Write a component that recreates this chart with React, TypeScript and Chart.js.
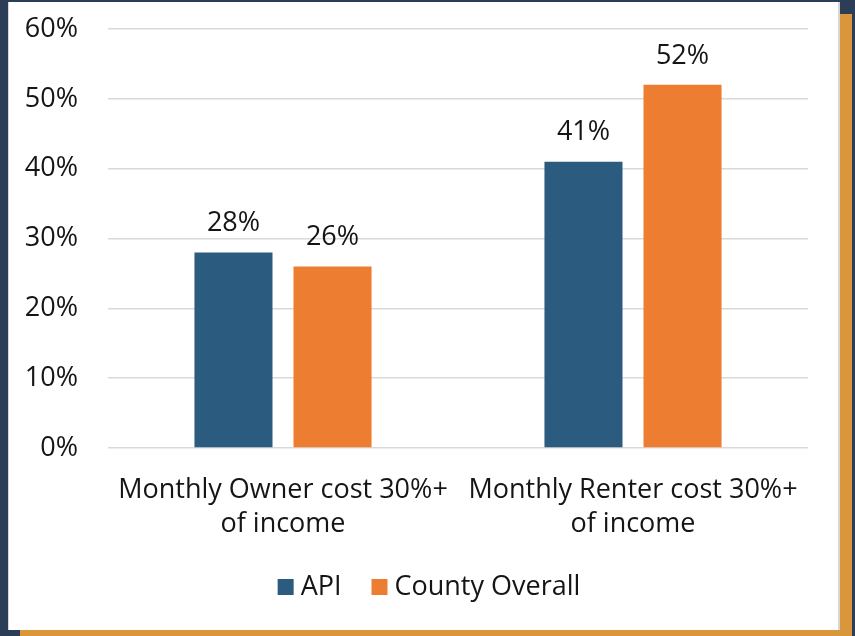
import React, { useEffect, useRef } from "react";
import { Chart, registerables } from "chart.js";

Chart.register(...registerables);

const categories: string[][] = [
  ["Monthly Owner cost 30%+", "of income"],
  ["Monthly Renter cost 30%+", "of income"],
];
const seriesNames = ["API", "County Overall"];
const seriesColors = ["#2B5B7E", "#ED7D31"];
const apiValues = [28, 41];
const countyValues = [26, 52];
const yTicks = [0, 10, 20, 30, 40, 50, 60];

const FONT = "'Open Sans', 'Noto Sans', sans-serif";
const TEXT = "#151515";
const FS = 27;

const dataLabels = {
  id: "dataLabels",
  afterDatasetsDraw(chart: any) {
    const { ctx } = chart;
    ctx.save();
    ctx.font = `${FS}px ${FONT}`;
    ctx.fillStyle = TEXT;
    ctx.textAlign = "center";
    ctx.textBaseline = "middle";
    chart.data.datasets.forEach((ds: any, i: number) => {
      const meta = chart.getDatasetMeta(i);
      meta.data.forEach((el: any, j: number) => {
        ctx.fillText(`${ds.data[j]}%`, el.x, el.y - 29);
      });
    });
    ctx.restore();
  },
};

const customLegend = {
  id: "customLegend",
  afterDraw(chart: any) {
    const { ctx } = chart;
    ctx.save();
    ctx.font = `${FS}px ${FONT}`;
    ctx.textBaseline = "middle";
    ctx.textAlign = "left";
    const box = 16;
    const gapBoxText = 7;
    const gapItems = 30;
    const items = chart.data.datasets.map((ds: any) => ({
      label: ds.label,
      color: ds.backgroundColor,
      w: ctx.measureText(ds.label).width,
    }));
    const total =
      items.reduce((s: number, it: any) => s + box + gapBoxText + it.w, 0) +
      gapItems * (items.length - 1);
    let x = chart.width / 2 + 5 - total / 2;
    const cy = 585;
    items.forEach((it: any) => {
      ctx.fillStyle = it.color;
      ctx.fillRect(x, cy - box / 2, box, box);
      x += box + gapBoxText;
      ctx.fillStyle = TEXT;
      ctx.fillText(it.label, x, cy);
      x += it.w + gapItems;
    });
    ctx.restore();
  },
};

export default function App() {
  const ref = useRef<HTMLCanvasElement>(null);
  useEffect(() => {
    if (!ref.current) return;
    const chart = new Chart(ref.current, {
      type: "bar",
      data: {
        labels: categories,
        datasets: [
          {
            label: seriesNames[0],
            data: apiValues,
            backgroundColor: seriesColors[0],
            categoryPercentage: 0.566,
            barPercentage: 0.788,
          },
          {
            label: seriesNames[1],
            data: countyValues,
            backgroundColor: seriesColors[1],
            categoryPercentage: 0.566,
            barPercentage: 0.788,
          },
        ],
      },
      options: {
        responsive: false,
        animation: false,
        devicePixelRatio: 1,
        layout: { padding: { top: 27, right: 32, bottom: 70, left: 0 } },
        plugins: {
          legend: { display: false },
          tooltip: { enabled: false },
        },
        scales: {
          x: {
            grid: { display: false, drawTicks: false },
            border: { display: false },
            ticks: {
              color: TEXT,
              font: { family: FONT, size: FS, lineHeight: 34 / FS },
              padding: 25,
              maxRotation: 0,
              autoSkip: false,
            },
            afterFit(scale: any) {
              scale.height = 112;
              scale.paddingLeft = 0;
              scale.paddingRight = 0;
            },
          },
          y: {
            min: 0,
            max: 60,
            afterBuildTicks(scale: any) {
              scale.ticks = yTicks.map((v) => ({ value: v }));
            },
            grid: { color: "#d9d9d9", lineWidth: 1.5, drawTicks: false },
            border: { display: false },
            ticks: {
              color: TEXT,
              font: { family: FONT, size: FS },
              padding: 30,
              callback: (v: any) => `${v}%`,
            },
            afterFit(scale: any) {
              scale.width = 100;
              scale.paddingTop = 0;
              scale.paddingBottom = 0;
            },
          },
        },
      },
      plugins: [dataLabels, customLegend],
    });
    return () => chart.destroy();
  }, []);

  return (
    <div
      style={{
        position: "absolute",
        left: 0,
        top: 0,
        width: 855,
        height: 636,
        background: "#2B3D57",
        overflow: "hidden",
      }}
    >
      <div
        style={{
          position: "absolute",
          left: 20,
          top: 14,
          width: 832,
          height: 640,
          background: "#D9963A",
        }}
      />
      <div
        style={{
          position: "absolute",
          left: 8,
          top: 2,
          width: 832,
          height: 628,
          background: "#fff",
          boxSizing: "border-box",
          borderLeft: "1px solid #d4d8dc",
          borderRight: "2px solid #d6d6d6",
        }}
      >
        <canvas
          ref={ref}
          width={832}
          height={628}
          style={{ position: "absolute", left: -1, top: 0 }}
        />
      </div>
    </div>
  );
}
